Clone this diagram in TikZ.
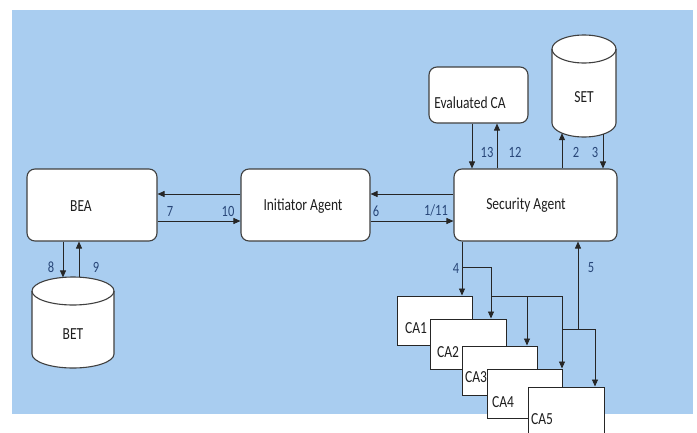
\documentclass[tikz,border=0pt]{standalone}
\usepackage{fontspec}
\setmainfont{Carlito}
\usepackage{graphicx}
\usetikzlibrary{arrows.meta}
\definecolor{bgblue}{RGB}{169,205,240}
\definecolor{numblue}{RGB}{40,70,120}
\definecolor{edgegray}{RGB}{64,64,64}
\definecolor{txt}{RGB}{30,30,30}
\newcommand\tallt[1]{\scalebox{1}[1.25]{#1}}
\begin{document}
\begin{tikzpicture}[x=1pt,y=-1pt,
  rbox/.style={draw=edgegray, line width=1.1pt, fill=white, rounded corners=8pt, inner sep=0pt},
  cabox/.style={draw=black!85, line width=1pt, fill=white, inner sep=0pt},
  cyl/.style={draw=edgegray, line width=1.1pt, fill=white},
  lbl/.style={font=\fontsize{13.5}{14}\selectfont, text=txt, inner sep=0pt},
  num/.style={font=\fontsize{12.5}{13}\selectfont, text=numblue, inner sep=0pt},
  conn/.style={draw=black!85, line width=0.9pt},
  arr/.style={conn, -{Triangle[length=7pt,width=6pt]}},
]
\clip (0,0) rectangle (697,432);
\fill[white] (0,0) rectangle (697,432);
\fill[bgblue] (12,10) rectangle (693,414);

% rounded boxes
\node[rbox, minimum width=130pt, minimum height=72pt] (bea) at (92,205) {};
\node[rbox, minimum width=129pt, minimum height=72pt] (init) at (305.5,205) {};
\node[rbox, minimum width=163pt, minimum height=72pt] (sa) at (535.5,205) {};
\node[rbox, minimum width=99pt, minimum height=56pt] (eval) at (478.5,95) {};
\node[lbl] (beat) at (81,206) {\tallt{BEA}};
\node[lbl] (initt) at (303,206) {\tallt{Initiator Agent}};
\node[lbl] (sat) at (526,205) {\tallt{Security Agent}};
\node[lbl] (evalt) at (470,103) {\tallt{Evaluated CA}};

% cylinders
\path[cyl] (32,291) -- (32,354) arc[start angle=180, end angle=360, x radius=41pt, y radius=14pt]
  -- (114,291) arc[start angle=0, end angle=180, x radius=41pt, y radius=14pt] -- cycle;
\draw[cyl, fill=none] (32,291) arc[start angle=180, end angle=360, x radius=41pt, y radius=14pt];
\node[lbl] (bet) at (73,334) {\tallt{BET}};
\path[cyl] (552,49) -- (552,123) arc[start angle=180, end angle=360, x radius=32pt, y radius=14pt]
  -- (616,49) arc[start angle=0, end angle=180, x radius=32pt, y radius=14pt] -- cycle;
\draw[cyl, fill=none] (552,49) arc[start angle=180, end angle=360, x radius=32pt, y radius=14pt];
\node[lbl] (set) at (584,97) {\tallt{SET}};

% CA boxes
\node[cabox, minimum width=75pt, minimum height=49pt] (ca1) at (434.5,320.5) {};
\node[lbl] (ca1t) at (416,328) {\tallt{CA1}};
\node[cabox, minimum width=76pt, minimum height=50pt] (ca2) at (468,344) {};
\node[lbl] (ca2t) at (448,352) {\tallt{CA2}};
\node[cabox, minimum width=75pt, minimum height=49pt] (ca3) at (499.5,370.5) {};
\node[lbl] (ca3t) at (476,377) {\tallt{CA3}};
\node[cabox, minimum width=75pt, minimum height=49pt] (ca4) at (524.5,393.5) {};
\node[lbl] (ca4t) at (503,402) {\tallt{CA4}};
\node[cabox, minimum width=76pt, minimum height=53pt] (ca5) at (566,413.5) {};
\node[lbl] (ca5t) at (542,419) {\tallt{CA5}};

% helper coordinates
\coordinate (hT) at (0,194);
\coordinate (hB) at (0,221);
\coordinate (betL) at (63,277.4);
\coordinate (betR) at (79,277.2);
\coordinate (setL) at (562,133.2);
\coordinate (setR) at (603,134.3);
\coordinate (x13) at (472,0);
\coordinate (x12) at (497,0);
\coordinate (j4) at (462,267);
\coordinate (j2) at (491,267);
\coordinate (k) at (491,296);
\coordinate (k3) at (527,296);
\coordinate (k4) at (562,296);
\coordinate (m) at (562,329);
\coordinate (m0) at (578,329);
\coordinate (m5) at (595,329);

% connectors
\draw[arr] (init.west |- hT) -- (bea.east |- hT);
\draw[arr] (bea.east |- hB) -- (init.west |- hB);
\draw[arr] (sa.west |- hT) -- (init.east |- hT);
\draw[arr] (init.east |- hB) -- (sa.west |- hB);
\draw[arr] (bea.south -| betL) -- (betL);
\draw[arr] (betR) -- (bea.south -| betR);
\draw[arr] (eval.south -| x13) -- (sa.north -| x13);
\draw[arr] (sa.north -| x12) -- (eval.south -| x12);
\draw[arr] (sa.north -| setL) -- (setL);
\draw[arr] (setR) -- (sa.north -| setR);
\draw[arr] (sa.south -| j4) -- (ca1.north -| j4);
\draw[arr] (j4) -- (j2) -- (ca2.north -| j2);
\draw[conn] (k) -- (k4);
\draw[arr] (k3) -- (ca3.north -| k3);
\draw[arr] (k4) -- (ca4.north -| k4);
\draw[conn] (m) -- (m5);
\draw[arr] (m5) -- (ca5.north -| m5);
\draw[arr] (m0) -- (sa.south -| m0);

% number labels
\node[num] (n7) at (170,211) {\tallt{7}};
\node[num] (n10) at (228,211) {\tallt{10}};
\node[num] (n6) at (376,211) {\tallt{6}};
\node[num] (n111) at (436,210) {\tallt{1/11}};
\node[num] (n8) at (51,267) {\tallt{8}};
\node[num] (n9) at (96,267) {\tallt{9}};
\node[num] (n13) at (487,152) {\tallt{13}};
\node[num] (n12) at (515,152) {\tallt{12}};
\node[num] (n2) at (576,152) {\tallt{2}};
\node[num] (n3) at (595,152) {\tallt{3}};
\node[num] (n4) at (456,268) {\tallt{4}};
\node[num] (n5) at (591,268) {\tallt{5}};
\end{tikzpicture}
\end{document}
